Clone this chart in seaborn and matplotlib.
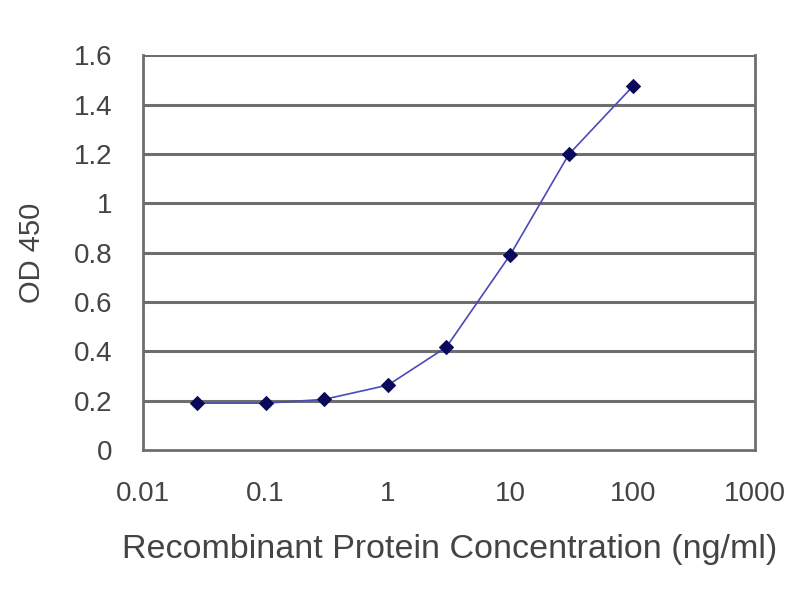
import matplotlib
matplotlib.use("Agg")
import matplotlib.pyplot as plt
import seaborn as sns
import pandas as pd
from matplotlib.ticker import FixedLocator, FixedFormatter, NullLocator

concentration = [0.0274, 0.1, 0.3, 1, 3, 10, 30, 100]
od450 = [0.19, 0.19, 0.205, 0.263, 0.417, 0.792, 1.198, 1.474]
x_ticks = [0.01, 0.1, 1, 10, 100, 1000]
x_tick_labels = ["0.01", "0.1", "1", "10", "100", "1000"]
y_ticks = [0, 0.2, 0.4, 0.6, 0.8, 1.0, 1.2, 1.4, 1.6]
y_tick_labels = ["0", "0.2", "0.4", "0.6", "0.8", "1", "1.2", "1.4", "1.6"]

df = pd.DataFrame({"conc": concentration, "od": od450})

sns.set_style("white")
plt.rcParams["font.family"] = ["Liberation Sans", "DejaVu Sans"]

fig = plt.figure(figsize=(8, 6), dpi=100)
ax = fig.add_axes([0.179, 0.25, 0.765, 0.658])

for y in y_ticks[1:]:
    ax.axhline(y, color="#6e6e6e", lw=2.2, zorder=1)

sns.lineplot(data=df, x="conc", y="od", ax=ax, color="#4a4ab8", lw=1.2,
             marker="D", markersize=7.5, markerfacecolor="#0a0a5a",
             markeredgecolor="#0a0a5a", zorder=3)

ax.set_xscale("log")
ax.set_xlim(0.01, 1000)
ax.set_ylim(0, 1.6)
ax.xaxis.set_major_locator(FixedLocator(x_ticks))
ax.xaxis.set_major_formatter(FixedFormatter(x_tick_labels))
ax.xaxis.set_minor_locator(NullLocator())
ax.yaxis.set_major_locator(FixedLocator(y_ticks))
ax.yaxis.set_major_formatter(FixedFormatter(y_tick_labels))

for side in ["left", "bottom", "right"]:
    ax.spines[side].set_color("#6e6e6e")
    ax.spines[side].set_linewidth(2)
ax.spines["top"].set_visible(False)

ax.tick_params(axis="x", which="major", length=4, width=1.5, color="#6e6e6e",
               direction="inout", labelsize=20, labelcolor="#444444", pad=20)
ax.tick_params(axis="y", which="major", length=0, labelsize=20,
               labelcolor="#444444", pad=22)

ax.set_xlabel("Recombinant Protein Concentration (ng/ml)", fontsize=24.5,
              color="#444444", labelpad=20)
ax.set_ylabel("OD 450", fontsize=21, color="#444444", labelpad=20)

fig.savefig("out.png", dpi=100, facecolor="white")
